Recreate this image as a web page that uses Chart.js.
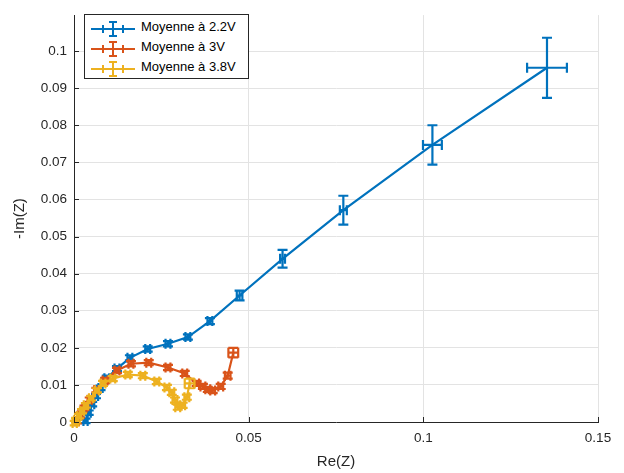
<!DOCTYPE html>
<html>
<head>
<meta charset="utf-8">
<script src="https://cdn.jsdelivr.net/npm/chart.js@4"></script>
<style>
  body { margin: 0; background: #fff; }
  #wrap { position: relative; width: 624px; height: 473px; }
  #legend {
    position: absolute; left: 84px; top: 14px; width: 163px; height: 63px;
    border: 1px solid #262626; background: #fff;
    font: 13px "Liberation Sans", Arial, sans-serif; color: #000;
  }
  #legend .row { position: absolute; left: 0; height: 20px; line-height: 20px; white-space: nowrap; }
  #legend svg { position: absolute; left: 4px; top: 0; }
  #legend span { position: absolute; left: 56px; top: 0; }
</style>
</head>
<body>
<div id="wrap">
  <canvas id="nyquist"></canvas>
  <div id="legend"></div>
</div>
<script>
// Légende et couleurs (ordre MATLAB)
const seriesNames = ["Moyenne à 2.2V", "Moyenne à 3V", "Moyenne à 3.8V"];
const seriesColors = ["#0072BD", "#D95319", "#EDB120"];

// Moyenne à 2.2V
const re22 = [0.0033, 0.0042, 0.0052, 0.0063, 0.0076, 0.0094, 0.0123, 0.0160, 0.0211, 0.0269, 0.0326, 0.0389, 0.0474, 0.0597, 0.0771, 0.1026, 0.1354];
const im22 = [0.0003, 0.0025, 0.0048, 0.0070, 0.0092, 0.0118, 0.0144, 0.0173, 0.0197, 0.0211, 0.0229, 0.0272, 0.0341, 0.0440, 0.0571, 0.0747, 0.0955];
const errRe22 = [0.0006, 0.0006, 0.0006, 0.0006, 0.0006, 0.0007, 0.0007, 0.0007, 0.0007, 0.0007, 0.0007, 0.0007, 0.0008, 0.0007, 0.0010, 0.0027, 0.0057];
const errIm22 = [0.0006, 0.0006, 0.0006, 0.0006, 0.0006, 0.0007, 0.0007, 0.0007, 0.0007, 0.0007, 0.0007, 0.0008, 0.0013, 0.0024, 0.0039, 0.0053, 0.0081];

// Moyenne à 3V
const re30 = [0.0008, 0.0017, 0.0030, 0.0045, 0.0064, 0.0089, 0.0123, 0.0163, 0.0214, 0.0269, 0.0317, 0.0351, 0.0369, 0.0383, 0.0397, 0.0420, 0.0440, 0.0456];
const im30 = [0.0002, 0.0018, 0.0038, 0.0060, 0.0086, 0.0112, 0.0139, 0.0157, 0.0160, 0.0147, 0.0131, 0.0104, 0.0096, 0.0088, 0.0085, 0.0096, 0.0125, 0.0187];
const errRe30 = [0.0006, 0.0006, 0.0006, 0.0006, 0.0006, 0.0007, 0.0007, 0.0007, 0.0007, 0.0007, 0.0007, 0.0007, 0.0007, 0.0007, 0.0007, 0.0007, 0.0008, 0.0014];
const errIm30 = [0.0006, 0.0006, 0.0006, 0.0006, 0.0006, 0.0007, 0.0007, 0.0007, 0.0007, 0.0007, 0.0007, 0.0007, 0.0007, 0.0007, 0.0007, 0.0007, 0.0008, 0.0013];

// Moyenne à 3.8V
const re38 = [0.0002, 0.0006, 0.0014, 0.0023, 0.0034, 0.0049, 0.0066, 0.0083, 0.0111, 0.0154, 0.0197, 0.0237, 0.0266, 0.0280, 0.0289, 0.0297, 0.0311, 0.0323, 0.0331];
const im38 = [-0.0003, 0.0005, 0.0016, 0.0029, 0.0045, 0.0064, 0.0085, 0.0104, 0.0117, 0.0128, 0.0125, 0.0109, 0.0093, 0.0080, 0.0059, 0.0040, 0.0045, 0.0067, 0.0104];
const errRe38 = [0.0006, 0.0006, 0.0006, 0.0006, 0.0006, 0.0006, 0.0006, 0.0007, 0.0007, 0.0007, 0.0007, 0.0007, 0.0007, 0.0007, 0.0007, 0.0007, 0.0007, 0.0007, 0.0014];
const errIm38 = [0.0006, 0.0006, 0.0006, 0.0006, 0.0006, 0.0006, 0.0006, 0.0007, 0.0007, 0.0007, 0.0007, 0.0007, 0.0007, 0.0007, 0.0007, 0.0007, 0.0007, 0.0007, 0.0013];

// Ticks des axes
const xTicks = [0, 0.05, 0.1, 0.15];
const yTicks = [0, 0.01, 0.02, 0.03, 0.04, 0.05, 0.06, 0.07, 0.08, 0.09, 0.1];

const allRe = [re22, re30, re38];
const allIm = [im22, im30, im38];
const allErrRe = [errRe22, errRe30, errRe38];
const allErrIm = [errIm22, errIm30, errIm38];

function toPoints(xs, ys) {
  return xs.map((x, i) => ({ x: x, y: ys[i] }));
}

const FONT = '"Liberation Sans", Arial, sans-serif';
const AXIS = '#262626';

// Barres d'erreur dans les deux directions
const errorBars = {
  id: 'errorBars',
  afterDatasetDraw(chart, args) {
    const i = args.index;
    const xs = chart.scales.x, ys = chart.scales.y, ctx = chart.ctx;
    const cap = 5;
    ctx.save();
    ctx.strokeStyle = seriesColors[i];
    ctx.lineWidth = 2.2;
    allRe[i].forEach((re, k) => {
      const im = allIm[i][k];
      const px = xs.getPixelForValue(re), py = ys.getPixelForValue(im);
      const x0 = xs.getPixelForValue(re - allErrRe[i][k]);
      const x1 = xs.getPixelForValue(re + allErrRe[i][k]);
      const y0 = ys.getPixelForValue(im - allErrIm[i][k]);
      const y1 = ys.getPixelForValue(im + allErrIm[i][k]);
      ctx.beginPath();
      ctx.moveTo(x0, py); ctx.lineTo(x1, py);
      ctx.moveTo(x0, py - cap); ctx.lineTo(x0, py + cap);
      ctx.moveTo(x1, py - cap); ctx.lineTo(x1, py + cap);
      ctx.moveTo(px, y0); ctx.lineTo(px, y1);
      ctx.moveTo(px - cap, y0); ctx.lineTo(px + cap, y0);
      ctx.moveTo(px - cap, y1); ctx.lineTo(px + cap, y1);
      ctx.stroke();
    });
    ctx.restore();
  }
};

// Petits ticks vers l'intérieur, comme MATLAB
const innerTicks = {
  id: 'innerTicks',
  afterDraw(chart) {
    const { ctx, chartArea } = chart;
    const xs = chart.scales.x, ys = chart.scales.y;
    ctx.save();
    ctx.strokeStyle = AXIS;
    ctx.lineWidth = 1;
    ctx.beginPath();
    xTicks.forEach(v => {
      const p = Math.round(xs.getPixelForValue(v)) + 0.5;
      ctx.moveTo(p, chartArea.bottom); ctx.lineTo(p, chartArea.bottom - 5);
    });
    yTicks.forEach(v => {
      const p = Math.round(ys.getPixelForValue(v)) + 0.5;
      ctx.moveTo(chartArea.left, p); ctx.lineTo(chartArea.left + 5, p);
    });
    ctx.stroke();
    ctx.restore();
  }
};

const datasets = seriesNames.map((name, i) => ({
  label: name,
  data: toPoints(allRe[i], allIm[i]),
  showLine: true,
  borderColor: seriesColors[i],
  backgroundColor: seriesColors[i],
  borderWidth: 2.2,
  pointRadius: 0,
  clip: false,
  order: 2 - i
}));

new Chart(document.getElementById('nyquist'), {
  type: 'scatter',
  data: { datasets: datasets },
  options: {
    responsive: true,
    maintainAspectRatio: false,
    animation: false,
    layout: { padding: { left: 0, right: 26, top: 10, bottom: 0 } },
    plugins: { legend: { display: false }, tooltip: { enabled: false } },
    scales: {
      x: {
        type: 'linear',
        min: 0, max: 0.15,
        afterFit: s => { s.height = 51; },
        afterBuildTicks: s => { s.ticks = xTicks.map(v => ({ value: v })); },
        grid: { color: '#e3e3e3', drawTicks: false },
        border: { color: AXIS, width: 1 },
        ticks: {
          padding: 8, color: AXIS, font: { family: FONT, size: 13.5 },
          maxRotation: 0,
          callback: v => String(+v.toFixed(2))
        },
        title: { display: true, text: 'Re(Z)', color: AXIS, font: { family: FONT, size: 15 }, padding: { top: 0, bottom: 2 } }
      },
      y: {
        type: 'linear',
        min: 0, max: 0.1097,
        afterFit: s => { s.width = 74; },
        afterBuildTicks: s => { s.ticks = yTicks.map(v => ({ value: v })); },
        grid: { color: '#e3e3e3', drawTicks: false },
        border: { color: AXIS, width: 1 },
        ticks: {
          padding: 7, color: AXIS, font: { family: FONT, size: 13.5 },
          callback: v => String(+v.toFixed(2))
        },
        title: { display: true, text: '-Im(Z)', color: AXIS, font: { family: FONT, size: 15 }, padding: { top: 11, bottom: 0 } }
      }
    }
  },
  plugins: [errorBars, innerTicks]
});

// Légende HTML à l'intérieur des axes
const legendBox = document.getElementById('legend');
seriesNames.forEach((name, i) => {
  const c = seriesColors[i];
  const row = document.createElement('div');
  row.className = 'row';
  row.style.top = (2 + i * 20) + 'px';
  row.style.width = '100%';
  row.innerHTML =
    '<svg width="48" height="20">' +
    '<g stroke="' + c + '" stroke-width="2" fill="none">' +
    '<line x1="2" y1="12" x2="46" y2="12"/>' +
    '<line x1="14" y1="12" x2="34" y2="12"/>' +
    '<line x1="14" y1="8" x2="14" y2="16"/><line x1="34" y1="8" x2="34" y2="16"/>' +
    '<line x1="24" y1="5" x2="24" y2="19"/>' +
    '<line x1="20" y1="5" x2="28" y2="5"/><line x1="20" y1="19" x2="28" y2="19"/>' +
    '</g></svg>';
  const label = document.createElement('span');
  label.textContent = name;
  row.appendChild(label);
  legendBox.appendChild(row);
});
</script>
</body>
</html>
